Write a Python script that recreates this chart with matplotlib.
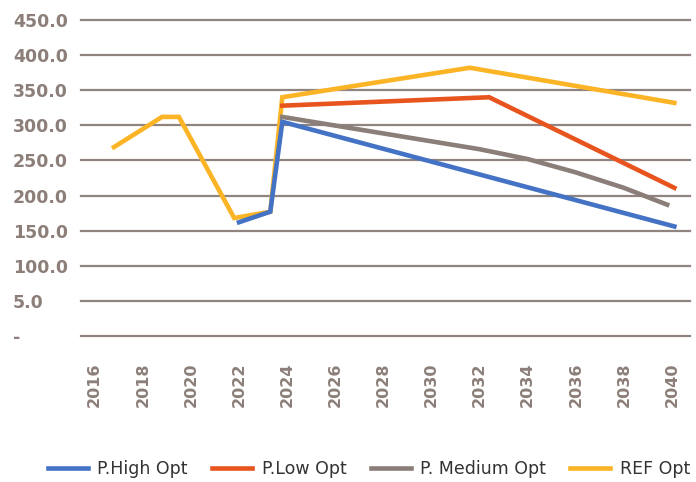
import matplotlib
matplotlib.use('Agg')
from matplotlib import pyplot as plt
from matplotlib.transforms import ScaledTranslation

# Values.
ref_years = [2016.8, 2018.8, 2019.5, 2021.8, 2023.3, 2023.8, 2031.6, 2040.1]
ref_vals = [269, 312, 312, 168, 177, 340, 382, 332]

high_years = [2022.0, 2023.3, 2023.8, 2040.1]
high_vals = [162, 177, 305, 156]

low_years = [2023.8, 2032.4, 2040.1]
low_vals = [328, 340, 211]

med_years = [2023.8, 2032.0, 2034.0, 2036.0, 2038.0, 2039.8]
med_vals = [312, 266, 252, 233, 211, 187]

y_ticks = [0, 50, 100, 150, 200, 250, 300, 350, 400, 450]
y_labels = ['-', '5.0', '100.0', '150.0', '200.0', '250.0', '300.0',
            '350.0', '400.0', '450.0']
x_labels = ['2016', '2018', '2020', '2022', '2024', '2026', '2028', '2030',
            '2032', '2034', '2036', '2038', '2040']

text_c = '#8C7E78'
grid_c = '#8F847F'

fig = plt.figure(figsize=(6.96, 4.82), dpi=100)
ax = fig.add_axes([81/696, 1 - 336/482, 609/696, 316/482])

lw = 3.3
ax.plot(high_years, high_vals, c='#4472C4', lw=lw, label='P.High Opt',
        solid_joinstyle='miter', zorder=4)
ax.plot(low_years, low_vals, c='#E8541E', lw=lw, label='P.Low Opt',
        solid_joinstyle='miter', zorder=3)
ax.plot(med_years, med_vals, c='#8B7D77', lw=lw, label='P. Medium Opt',
        solid_joinstyle='miter', zorder=3)
ax.plot(ref_years, ref_vals, c='#FBB426', lw=lw, label='REF Opt',
        solid_joinstyle='miter', zorder=2)

for yv in y_ticks:
    ax.axhline(yv, color=grid_c, lw=1.6, zorder=1, clip_on=False)

ax.set_xlim(2015.43, 2040.75)
ax.set_ylim(0, 450)
for s in ax.spines.values():
    s.set_visible(False)

ax.set_yticks(y_ticks)
ax.set_yticklabels(y_labels, fontsize=12.5, fontweight='bold', color=text_c)
shift = ScaledTranslation(0, -4/100, fig.dpi_scale_trans)
for t in ax.get_yticklabels():
    t.set_horizontalalignment('left')
    t.set_transform(t.get_transform() + shift)
ax.tick_params(axis='y', length=0, pad=49)

ax.set_xticks([2016 + 2 * i for i in range(len(x_labels))])
ax.set_xticklabels(x_labels, rotation=90, fontsize=11.5, fontweight='bold',
                   color=text_c)
ax.tick_params(axis='x', length=0, pad=19)

fig.legend(loc='center', bbox_to_anchor=(0.53, 0.026), ncol=4, frameon=False,
           fontsize=12.5, handlelength=2.3, handletextpad=0.55,
           columnspacing=1.4, labelcolor='#333333')

fig.savefig('out.png', dpi=100)
